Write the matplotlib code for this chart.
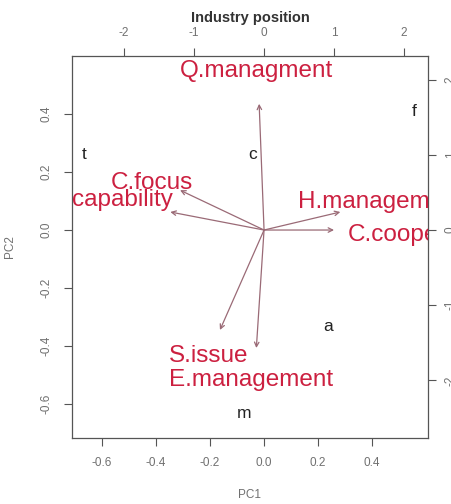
import matplotlib
matplotlib.use("Agg")
import matplotlib.pyplot as plt

plt.rcParams['font.family'] = ['Liberation Sans', 'DejaVu Sans']

# Scores (PC1, PC2)
obs_labels = ["t", "c", "f", "a", "m"]
pc1 = [-0.667, -0.044, 0.556, 0.237, -0.074]
pc2 = [0.259, 0.262, 0.410, -0.331, -0.631]

# Loadings (arrow tips) and label positions, in loading units
var_labels = ["Q.managment", "C.focus", "capability", "H.management",
              "C.cooperation", "S.issue", "E.management"]
load_x = [-0.07, -1.20, -1.34, 1.09, 1.00, -0.63, -0.11]
load_y = [1.68, 0.53, 0.24, 0.24, 0.00, -1.33, -1.57]
lab_x = [-0.11, -1.60, -2.03, 1.67, 2.27, -0.79, -0.19]
lab_y = [2.12, 0.63, 0.40, 0.37, -0.07, -1.67, -2.00]

x_ticks = [-0.6, -0.4, -0.2, 0.0, 0.2, 0.4]
y_ticks = [-0.6, -0.4, -0.2, 0.0, 0.2, 0.4]
top_ticks = [-2, -1, 0, 1, 2]
right_ticks = [-2, -1, 0, 1, 2]

xlim = (-0.711, 0.607)
ylim = (-0.717, 0.600)
ratio = 3.86

fig = plt.figure(figsize=(4.52, 5.04), dpi=100)
pos = [72 / 452, 66 / 504, 356 / 452, 382 / 504]
ax = fig.add_axes(pos)
ax2 = fig.add_axes(pos, frameon=False)

axcol = '#555555'
labcol = '#707070'

ax.set_xlim(*xlim)
ax.set_ylim(*ylim)
ax.set_xticks(x_ticks)
ax.set_xticklabels([f"{v:.1f}" for v in x_ticks])
ax.set_yticks(y_ticks)
ax.set_yticklabels([f"{v:.1f}" for v in y_ticks], rotation=90, va='center')
ax.tick_params(axis='both', direction='out', length=6, width=0.8, color=axcol,
               labelsize=8.5, labelcolor=labcol, pad=8)
for s in ax.spines.values():
    s.set_color(axcol)
    s.set_linewidth(0.9)
ax.set_xlabel("PC1", fontsize=8.5, color=labcol, labelpad=14)
ax.set_ylabel("PC2", fontsize=8.5, color=labcol, labelpad=18)

for lab, x, y in zip(obs_labels, pc1, pc2):
    ax.text(x, y, lab, ha='center', va='center', fontsize=12.5, color='#222222')

ax2.set_xlim(xlim[0] * ratio, xlim[1] * ratio)
ax2.set_ylim(ylim[0] * ratio, ylim[1] * ratio)
ax2.xaxis.set_ticks_position('top')
ax2.xaxis.set_label_position('top')
ax2.yaxis.set_ticks_position('right')
ax2.set_xticks(top_ticks)
ax2.set_xticklabels([str(v) for v in top_ticks])
ax2.set_yticks(right_ticks)
ax2.set_yticklabels([str(v) for v in right_ticks], rotation=90, va='center')
ax2.tick_params(axis='both', direction='out', length=6, width=0.8, color=axcol,
                labelsize=8.5, labelcolor=labcol, pad=6)
ax2.set_xlabel("Industry position", fontsize=10.5, fontweight='bold',
               color='#333333', labelpad=4)

arrcol = '#9a6a76'
for lx, ly in zip(load_x, load_y):
    ax2.annotate("", xy=(lx, ly), xytext=(0, 0),
                 arrowprops=dict(arrowstyle='->', color=arrcol, lw=0.9,
                                 shrinkA=0, shrinkB=0, mutation_scale=8))
for lab, x, y in zip(var_labels, lab_x, lab_y):
    ax2.text(x, y, lab, ha='center', va='center', fontsize=17.5,
             color='#cc2040', clip_on=True)

fig.savefig("out.png", dpi=100)
